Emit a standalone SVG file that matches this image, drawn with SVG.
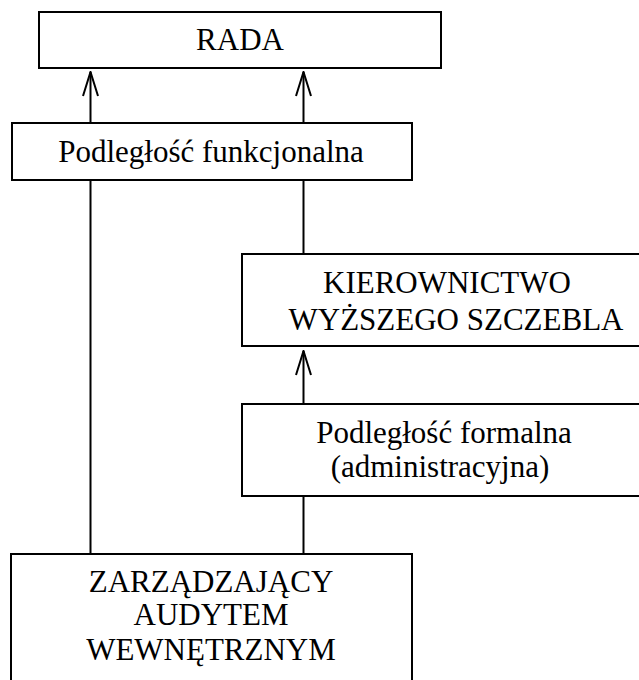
<svg xmlns="http://www.w3.org/2000/svg" width="639" height="680" viewBox="0 0 639 680">
<style>
.box{fill:#fff;stroke:#000;stroke-width:2}
.t{font-family:'Liberation Serif','Times New Roman','DejaVu Serif',serif;font-size:31px;fill:#000;text-anchor:middle}
.c{stroke:#000;stroke-width:2;fill:none}
</style>
<defs>
<marker id="arr" viewBox="0 0 30 20" refX="29" refY="10" markerWidth="30" markerHeight="20" markerUnits="userSpaceOnUse" orient="auto">
<path d="M5 2.5 L29 10 L5 17.5" fill="none" stroke="#000" stroke-width="2"/>
</marker>
</defs>
<rect width="639" height="680" fill="#fff"/>
<g id="connectors">
<line class="c" x1="90.5" y1="123" x2="90.5" y2="72" marker-end="url(#arr)"/>
<line class="c" x1="303.5" y1="123" x2="303.5" y2="72" marker-end="url(#arr)"/>
<line class="c" x1="303.5" y1="404" x2="303.5" y2="351" marker-end="url(#arr)"/>
<line class="c" x1="90.5" y1="180" x2="90.5" y2="554"/>
<line class="c" x1="303.5" y1="180" x2="303.5" y2="254"/>
<line class="c" x1="303.5" y1="496" x2="303.5" y2="554"/>
</g>
<g id="rada">
<rect class="box" x="39" y="12" width="402" height="56"/>
<text class="t" x="240" y="50" font-family="Liberation Serif">RADA</text>
</g>
<g id="funkcjonalna">
<rect class="box" x="12" y="123" width="400" height="57"/>
<text class="t" x="211" y="162">Podległość funkcjonalna</text>
</g>
<g id="kierownictwo">
<rect class="box" x="242" y="254" width="420" height="92"/>
<text class="t" x="447" y="293">KIEROWNICTWO</text>
<text class="t" x="456" y="330">WYŻSZEGO SZCZEBLA</text>
</g>
<g id="formalna">
<rect class="box" x="242" y="404" width="420" height="92"/>
<text class="t" x="444" y="443">Podległość formalna</text>
<text class="t" x="440" y="477">(administracyjna)</text>
</g>
<g id="zarzadzajacy">
<rect class="box" x="11" y="554" width="401" height="140"/>
<text class="t" x="211" y="592">ZARZĄDZAJĄCY</text>
<text class="t" x="211" y="625">AUDYTEM</text>
<text class="t" x="211" y="660">WEWNĘTRZNYM</text>
</g>
</svg>
